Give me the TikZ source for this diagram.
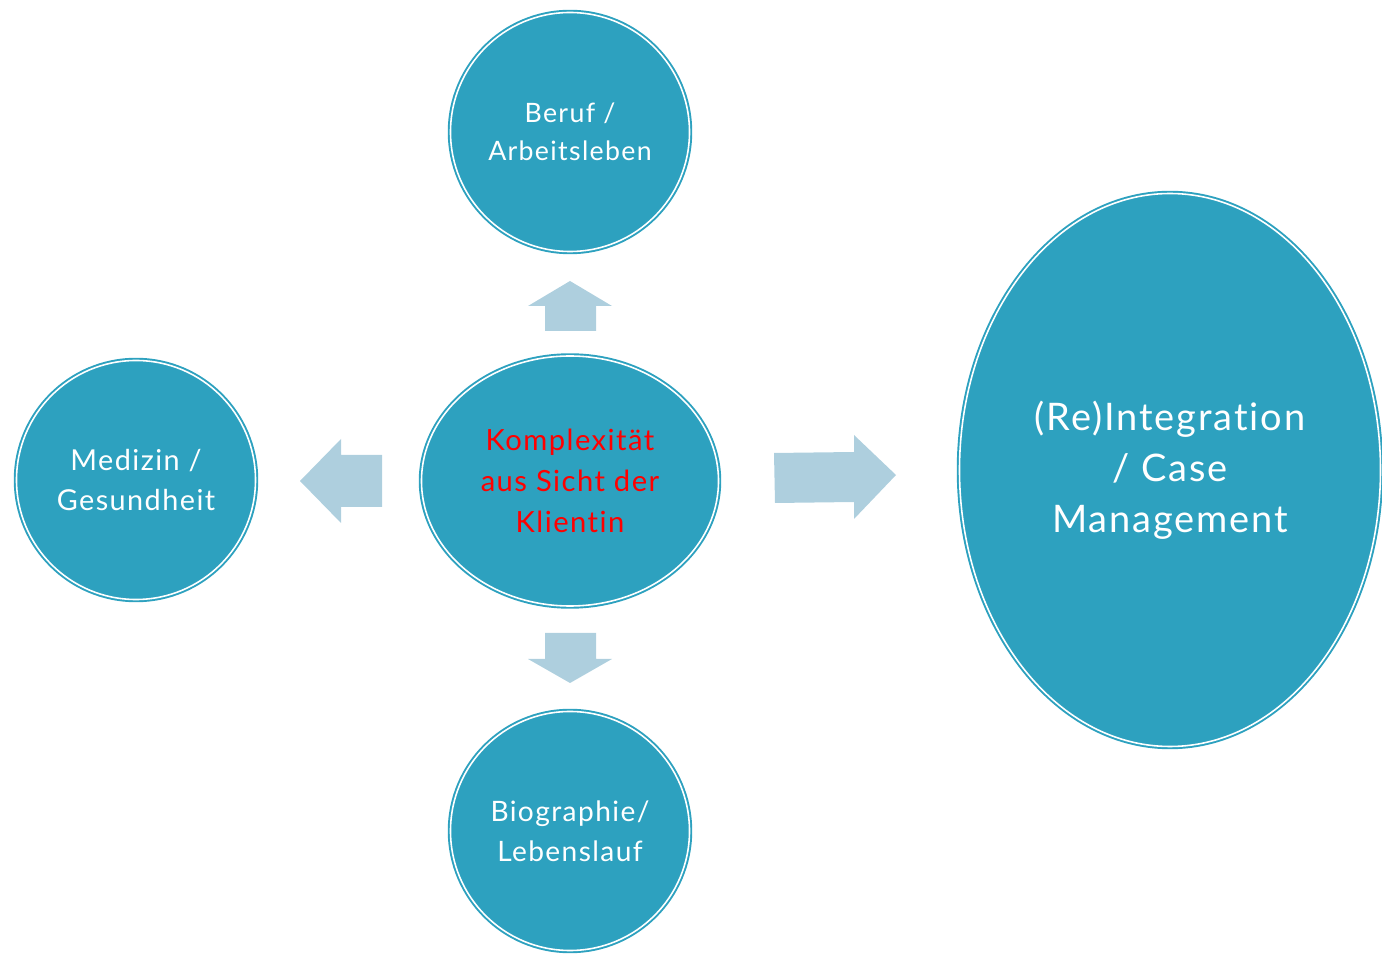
\documentclass[tikz,border=0pt]{standalone}
\usepackage{fontspec}
\setmainfont{Lato}[LetterSpace=5, Ligatures={NoCommon}]
\usetikzlibrary{shapes.geometric}

\definecolor{bubblefill}{HTML}{2DA1BF}
\definecolor{arrowfill}{HTML}{AECFDE}

\tikzset{
  bubble/.style={circle, fill=bubblefill, draw=bubblefill, line width=0.55pt,
    double=white, double distance=0.45pt, inner sep=0pt, align=center,
    text=white, minimum size=2.39cm, font=\fontsize{7.6}{10.9}\selectfont},
  blockarrow/.style={fill=arrowfill, draw=none}
}

\begin{document}
\begin{tikzpicture}
\useasboundingbox (0,0) rectangle (13.82,-9.56);

\node[bubble] (beruf) at (5.70,-1.32) {Beruf /\\Arbeitsleben};
\node[bubble, font=\fontsize{8.2}{11.4}\selectfont] (medizin) at (1.36,-4.80) {Medizin /\\Gesundheit};
\node[bubble, font=\fontsize{8}{11.4}\selectfont] (bio) at (5.70,-8.31) {Biographie/\\Lebenslauf};
\node[bubble, ellipse, minimum width=2.97cm, minimum height=2.50cm, text=red,
  font=\fontsize{8.3}{11.7}\selectfont] (klientin) at (5.70,-4.81) {Komplexität\\aus Sicht der\\Klientin};
\node[bubble, ellipse, minimum width=4.21cm, minimum height=5.53cm,
  font=\fontsize{10.8}{14.5}\selectfont] (case) at (11.70,-4.70) {(Re)Integration\\/ Case\\Management};

% up
\fill[blockarrow] (5.45,-3.31) -- (5.45,-3.06) -- (5.28,-3.06) -- (5.70,-2.81) -- (6.12,-3.06) -- (5.96,-3.06) -- (5.96,-3.31) -- cycle;
% down
\fill[blockarrow] (5.45,-6.33) -- (5.45,-6.59) -- (5.28,-6.59) -- (5.70,-6.83) -- (6.12,-6.59) -- (5.96,-6.59) -- (5.96,-6.33) -- cycle;
% left
\fill[blockarrow] (3.82,-4.55) -- (3.41,-4.55) -- (3.41,-4.39) -- (3.00,-4.81) -- (3.41,-5.23) -- (3.41,-5.07) -- (3.82,-5.07) -- cycle;
% right
\fill[blockarrow] (7.74,-4.53) -- (8.54,-4.52) -- (8.54,-4.35) -- (8.96,-4.75) -- (8.54,-5.19) -- (8.54,-5.02) -- (7.75,-5.03) -- cycle;
\end{tikzpicture}
\end{document}
